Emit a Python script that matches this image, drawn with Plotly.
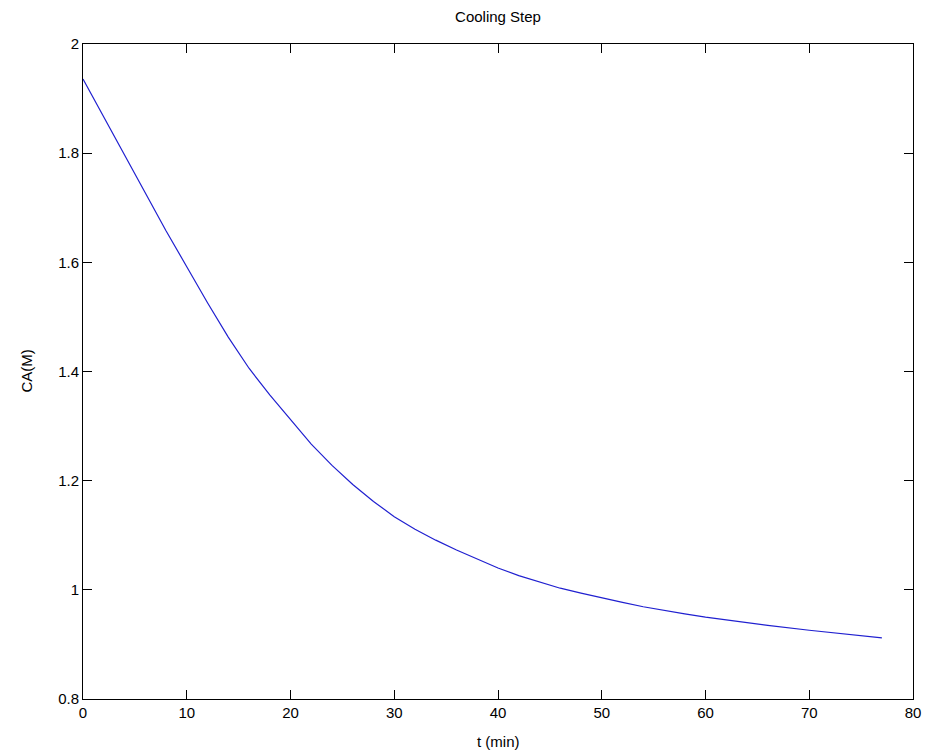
import plotly.graph_objects as go

t_min = [0, 2, 4, 6, 8, 10, 12, 14, 16, 18, 20, 22, 24, 26, 28, 30,
         32, 34, 36, 38, 40, 42, 44, 46, 48, 50, 52, 54, 56, 58, 60,
         63, 66, 70, 74, 77]
ca_M = [1.936, 1.866, 1.796, 1.727, 1.658, 1.592, 1.526, 1.463, 1.406,
        1.357, 1.311, 1.267, 1.228, 1.193, 1.162, 1.134,
        1.111, 1.091, 1.073, 1.056, 1.040, 1.026, 1.014, 1.003, 0.994,
        0.985, 0.977, 0.969, 0.962, 0.956, 0.950,
        0.942, 0.935, 0.926, 0.918, 0.912]

x_ticks = [0, 10, 20, 30, 40, 50, 60, 70, 80]
y_ticks = [0.8, 1.0, 1.2, 1.4, 1.6, 1.8, 2.0]
y_tick_labels = ["0.8", "1", "1.2", "1.4", "1.6", "1.8", "2"]

FONT = "Liberation Sans Narrow, Arial Narrow, Liberation Sans, Arial, sans-serif"
FS = 15

fig = go.Figure()
fig.add_trace(go.Scatter(x=t_min, y=ca_M, mode="lines",
                         line=dict(color="#2020d0", width=1.2),
                         showlegend=False))

axis_common = dict(showline=True, linecolor="black", linewidth=1, mirror="ticks",
                   ticks="inside", ticklen=9, tickcolor="black", tickwidth=1,
                   showgrid=False, zeroline=False, automargin=False,
                   tickfont=dict(family=FONT, size=FS, color="black"))

fig.update_xaxes(range=[0, 80], tickvals=x_ticks, **axis_common)
fig.update_yaxes(range=[0.8, 2.0], tickvals=y_ticks, ticktext=y_tick_labels, **axis_common)

fig.update_layout(
    width=927, height=755, autosize=False,
    margin=dict(l=83, r=14, t=44, b=56),
    paper_bgcolor="white", plot_bgcolor="white",
    font=dict(family=FONT, size=FS, color="black"),
    title=dict(text="Cooling Step", x=0.5, xref="paper", xanchor="center",
               y=1 - 17 / 755, yref="container", yanchor="middle",
               font=dict(family=FONT, size=FS, color="black")),
    annotations=[
        dict(text="t (min)", xref="paper", yref="paper", x=0.5, y=-(741 - 699) / 655,
             xanchor="center", yanchor="middle", showarrow=False,
             font=dict(family=FONT, size=FS, color="black")),
        dict(text="CA(M)", xref="paper", yref="paper", x=(26 - 83) / 830, y=0.5,
             xanchor="center", yanchor="middle", textangle=-90, showarrow=False,
             font=dict(family=FONT, size=FS, color="black")),
    ],
)

fig.write_html("out.html",
               config={"displayModeBar": False, "responsive": False},
               default_width="927px", default_height="755px",
               post_script="document.body.style.margin='0px';document.body.style.padding='0px';document.body.style.overflow='hidden';")
